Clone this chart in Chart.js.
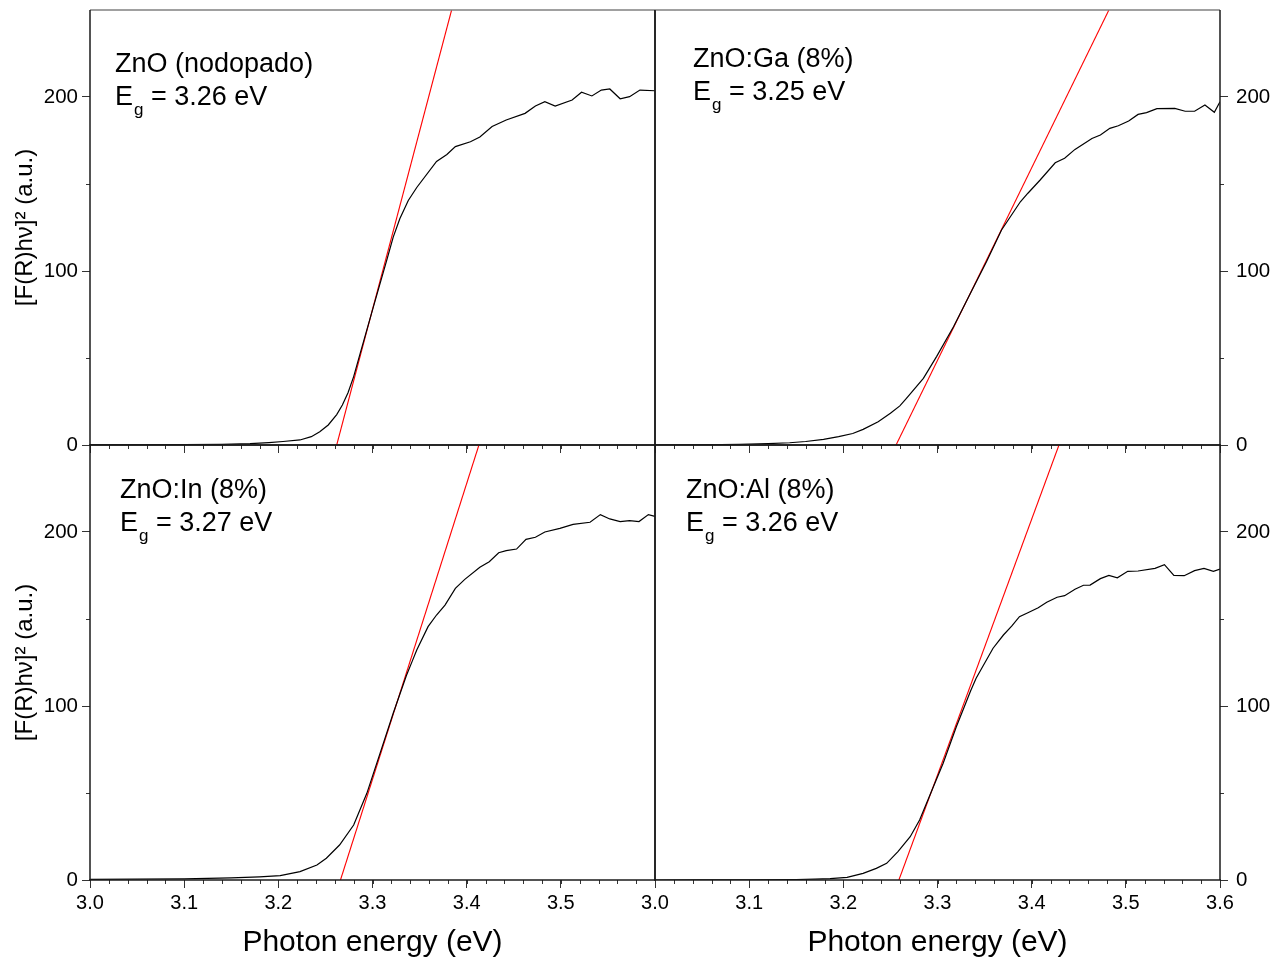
<!DOCTYPE html>
<html>
<head>
<meta charset="utf-8">
<script src="https://cdn.jsdelivr.net/npm/chart.js@4.4.1/dist/chart.umd.min.js"></script>
<style>
  body { margin: 0; background: #fff; }
  #wrap { position: relative; width: 1287px; height: 965px; overflow: hidden; background: #fff; }
  #wrap canvas { position: absolute; }
</style>
</head>
<body>
<div id="wrap">
  <canvas id="cTL" width="665" height="465" style="left:0;top:0"></canvas>
  <canvas id="cTR" width="672" height="465" style="left:615px;top:0"></canvas>
  <canvas id="cBL" width="665" height="530" style="left:0;top:435px"></canvas>
  <canvas id="cBR" width="672" height="530" style="left:615px;top:435px"></canvas>
</div>
<script>
// --- data: [F(R)hv]^2 vs photon energy ---
const energyUndoped = [3.000, 3.050, 3.100, 3.140, 3.170, 3.190, 3.205, 3.223, 3.235, 3.244, 3.253, 3.262, 3.268, 3.274, 3.280, 3.287, 3.301, 3.315, 3.322, 3.329, 3.338, 3.347, 3.368, 3.379, 3.388, 3.404, 3.414, 3.427, 3.442, 3.462, 3.473, 3.483, 3.494, 3.512, 3.522, 3.533, 3.543, 3.552, 3.563, 3.573, 3.584, 3.600];
const signalUndoped = [0.05, 0.1, 0.2, 0.4, 0.8, 1.4, 2.0, 2.9, 4.8, 7.6, 11.5, 17.5, 23, 30, 39.3, 52.8, 79.5, 106, 119.5, 130, 140.5, 148, 163, 167, 171.5, 174.3, 177, 183, 186.8, 190.6, 194.8, 197.3, 194.8, 198.3, 202.7, 200.6, 204, 204.6, 199, 200.2, 204, 203.6];

const energyGa = [3.000, 3.050, 3.090, 3.120, 3.143, 3.160, 3.179, 3.195, 3.210, 3.221, 3.237, 3.250, 3.260, 3.267, 3.285, 3.299, 3.317, 3.335, 3.352, 3.368, 3.388, 3.396, 3.409, 3.425, 3.435, 3.446, 3.464, 3.473, 3.483, 3.492, 3.503, 3.513, 3.522, 3.533, 3.552, 3.563, 3.573, 3.584, 3.594, 3.600];
const signalGa = [0, 0.15, 0.4, 0.8, 1.3, 2.0, 3.2, 4.8, 6.6, 9.0, 13.4, 18.2, 22.5, 26.8, 38.3, 50.8, 68, 87.2, 105.3, 123.6, 139.8, 144.7, 152.3, 162.2, 164.8, 169.9, 176.2, 178.2, 182, 183.5, 186.2, 190, 191, 193.3, 193.5, 191.8, 191.8, 195.4, 191.2, 197.3];

const energyIn = [3.000, 3.050, 3.100, 3.150, 3.180, 3.202, 3.223, 3.241, 3.251, 3.265, 3.280, 3.294, 3.308, 3.322, 3.336, 3.342, 3.347, 3.359, 3.368, 3.377, 3.388, 3.398, 3.414, 3.424, 3.434, 3.442, 3.453, 3.463, 3.473, 3.483, 3.499, 3.513, 3.531, 3.542, 3.552, 3.563, 3.573, 3.583, 3.593, 3.600];
const signalIn = [0.4, 0.5, 0.7, 1.2, 1.8, 2.5, 4.8, 8.6, 12.5, 20.1, 31.6, 49.8, 72.8, 95.8, 117.5, 125.5, 132.2, 145.6, 152.3, 158, 167.6, 172.8, 179.7, 182.9, 188.1, 189.3, 190.2, 195.8, 197, 200, 202.1, 204.4, 205.6, 210, 207.5, 206, 206.5, 206, 210, 209];

const energyAl = [3.000, 3.050, 3.100, 3.150, 3.170, 3.186, 3.204, 3.221, 3.235, 3.246, 3.258, 3.271, 3.281, 3.292, 3.306, 3.320, 3.335, 3.341, 3.347, 3.359, 3.370, 3.379, 3.387, 3.396, 3.407, 3.416, 3.427, 3.435, 3.446, 3.455, 3.462, 3.473, 3.482, 3.491, 3.502, 3.513, 3.531, 3.541, 3.551, 3.562, 3.573, 3.583, 3.593, 3.600];
const signalAl = [0, 0.05, 0.1, 0.3, 0.5, 0.8, 1.5, 3.8, 6.7, 9.6, 16.3, 24.9, 34.5, 48.9, 67.1, 88.1, 108.5, 116, 121.7, 133.2, 140.8, 146, 151.3, 153.6, 156.5, 159.6, 162.5, 163.4, 167.1, 169.4, 169.5, 173.2, 175.1, 173.7, 177.4, 177.6, 179.1, 181.2, 175.1, 174.9, 177.8, 179.1, 177.4, 178.7];

// tangent (Tauc) lines: energy at zero crossing and where they leave the top of the frame
const fitStart = [3.262, 3.256, 3.266, 3.259];
const fitEnd = [3.384, 3.482, 3.413, 3.429];

const panelNames = ['ZnO (nodopado)', 'ZnO:Ga (8%)', 'ZnO:In (8%)', 'ZnO:Al (8%)'];
const gapValues = ['3.26', '3.25', '3.27', '3.26'];

const xMin = 3.0, xMax = 3.6, xStep = 0.1, xMinorStep = 0.02;
const yMin = 0, yMax = 250, yStep = 100, yMinorStep = 50;

const FONT = '"Liberation Sans", Arial, Helvetica, sans-serif';
Chart.defaults.font.family = FONT;

// minor ticks, frame and the sample labels
const panelDeco = {
  id: 'panelDeco',
  afterDraw(chart, args, o) {
    const ctx = chart.ctx, a = chart.chartArea;
    const xs = chart.scales.x, ys = chart.scales.y;
    ctx.save();

    ctx.strokeStyle = '#333';
    ctx.lineWidth = 1;
    ctx.beginPath();
    for (let v = xMin + xMinorStep; v < xMax - 1e-6; v += xMinorStep) {
      const px = Math.round(xs.getPixelForValue(v)) + 0.5;
      ctx.moveTo(px, a.bottom);
      ctx.lineTo(px, a.bottom + 4);
    }
    for (let v = yMinorStep; v < yMax; v += yStep) {
      const py = Math.round(ys.getPixelForValue(v)) + 0.5;
      if (o.yRight) { ctx.moveTo(a.right, py); ctx.lineTo(a.right + 4, py); }
      else { ctx.moveTo(a.left - 4, py); ctx.lineTo(a.left, py); }
    }
    ctx.stroke();

    const edge = (x1, y1, x2, y2, col) => {
      ctx.strokeStyle = col;
      ctx.lineWidth = 1.5;
      ctx.beginPath();
      ctx.moveTo(x1, y1);
      ctx.lineTo(x2, y2);
      ctx.stroke();
    };
    edge(a.left, a.top, a.right, a.top, o.topColor);
    edge(a.left, a.top, a.left, a.bottom, '#1a1a1a');
    edge(a.right, a.top, a.right, a.bottom, '#1a1a1a');
    edge(a.left - 1, a.bottom, a.right + 1, a.bottom, '#1a1a1a');

    ctx.fillStyle = '#000';
    ctx.textBaseline = 'alphabetic';
    ctx.textAlign = 'left';
    ctx.font = '27px ' + FONT;
    let x = a.left + o.dx;
    ctx.fillText(panelNames[o.idx], x, a.top + o.dy1);
    ctx.fillText('E', x, a.top + o.dy2);
    x += ctx.measureText('E').width + 1;
    ctx.font = '17px ' + FONT;
    ctx.fillText('g', x, a.top + o.dy2 + 10);
    x += ctx.measureText('g').width;
    ctx.font = '27px ' + FONT;
    ctx.fillText(' = ' + gapValues[o.idx] + ' eV', x, a.top + o.dy2);
    ctx.restore();
  }
};

function makePanel(id, idx, energy, signal, cfg) {
  const fixX = s => { s.height = cfg.xHeight; s.paddingLeft = 0; s.paddingRight = 0; s.paddingTop = 0; s.paddingBottom = 0; };
  const fixY = s => { s.width = cfg.yWidth; s.paddingLeft = 0; s.paddingRight = 0; s.paddingTop = 0; s.paddingBottom = 0; };
  return new Chart(document.getElementById(id), {
    type: 'scatter',
    data: {
      datasets: [
        {
          data: energy.map((e, k) => ({ x: e, y: signal[k] })),
          showLine: true, borderColor: '#000', borderWidth: 1.2,
          pointRadius: 0, tension: 0
        },
        {
          data: [{ x: fitStart[idx], y: yMin }, { x: fitEnd[idx], y: yMax }],
          showLine: true, borderColor: '#ff0000', borderWidth: 1.1,
          pointRadius: 0
        }
      ]
    },
    options: {
      responsive: false,
      animation: false,
      events: [],
      layout: { padding: cfg.padding },
      plugins: {
        legend: { display: false },
        tooltip: { enabled: false },
        panelDeco: { idx: idx, yRight: cfg.yRight, topColor: cfg.topColor, dx: cfg.dx, dy1: cfg.dy1, dy2: cfg.dy2 }
      },
      scales: {
        x: {
          type: 'linear', position: 'bottom', min: xMin, max: xMax,
          afterFit: fixX,
          border: { display: false },
          grid: { drawOnChartArea: false, drawTicks: true, tickLength: 8, tickColor: '#333', tickWidth: 1 },
          ticks: {
            display: cfg.xLabels, stepSize: xStep, autoSkip: false, maxRotation: 0, includeBounds: false,
            padding: 3, color: '#000', font: { size: 20 },
            callback: v => (cfg.hideLast && v > xMax - 0.01) ? '' : Number(v).toFixed(1)
          },
          title: {
            display: cfg.xLabels, text: 'Photon energy (eV)', color: '#000',
            font: { size: 30 }, padding: { top: 0, bottom: 4 }
          }
        },
        y: {
          type: 'linear', position: cfg.yRight ? 'right' : 'left', min: yMin, max: yMax,
          afterFit: fixY,
          border: { display: false },
          grid: { drawOnChartArea: false, drawTicks: true, tickLength: 8, tickColor: '#333', tickWidth: 1 },
          ticks: {
            stepSize: yStep, includeBounds: false, padding: cfg.yRight ? 8 : 4,
            color: '#000', font: { size: 20.5 }
          },
          title: {
            display: !cfg.yRight, text: '[F(R)h\u03BD]\u00B2 (a.u.)', color: '#000',
            font: { size: 24 }, padding: { top: 11, bottom: 0 }
          }
        }
      }
    },
    plugins: [panelDeco]
  });
}

makePanel('cTL', 0, energyUndoped, signalUndoped, {
  padding: { top: 10, right: 10, left: 0, bottom: 0 }, xHeight: 20, yWidth: 90,
  yRight: false, xLabels: false, topColor: '#808080', dx: 25, dy1: 62, dy2: 95
});
makePanel('cTR', 1, energyGa, signalGa, {
  padding: { top: 10, right: 0, left: 40, bottom: 0 }, xHeight: 20, yWidth: 67,
  yRight: true, xLabels: false, topColor: '#808080', dx: 38, dy1: 57, dy2: 90
});
makePanel('cBL', 2, energyIn, signalIn, {
  padding: { top: 10, right: 10, left: 0, bottom: 0 }, xHeight: 85, yWidth: 90,
  yRight: false, xLabels: true, hideLast: true, topColor: '#1a1a1a', dx: 30, dy1: 53, dy2: 86
});
makePanel('cBR', 3, energyAl, signalAl, {
  padding: { top: 10, right: 0, left: 40, bottom: 0 }, xHeight: 85, yWidth: 67,
  yRight: true, xLabels: true, topColor: '#1a1a1a', dx: 31, dy1: 53, dy2: 86
});
</script>
</body>
</html>
